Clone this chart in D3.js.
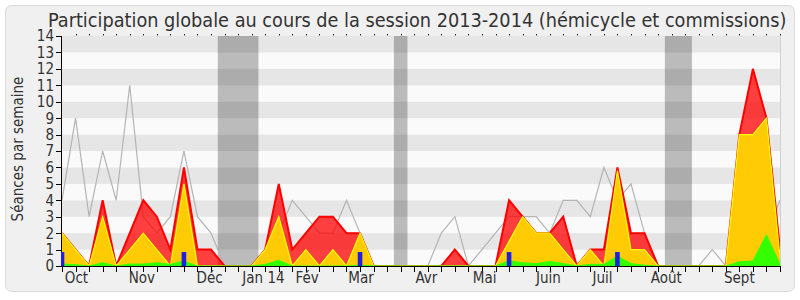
<!DOCTYPE html>
<html>
<head>
<meta charset="utf-8">
<script src="https://cdn.jsdelivr.net/npm/d3@7"></script>
<style>
  body { margin: 0; background: #fff; }
  svg text { font-family: "DejaVu Sans", sans-serif; font-stretch: condensed; fill: #333; }
</style>
</head>
<body>
<div id="grafico"></div>
<script>
// semaines de la session (index 0 = semaine du 30 sept 2013)
const semaines = d3.range(54);
const total     = [2,1,0,4,0,2,4,3,1,6,1,1,0,0,0,1,5,1,2,3,3,2,2,0,0,0,0,0,0,1,0,0,0,4,3,2,2,3,0,1,1,6,2,2,0,0,0,0,0,0,8,12,9,1];
const hemicycle = [2,1,0,3,0,1,2,1,0,5,0,0,0,0,0,1,3,0,1,0,1,0,2,0,0,0,0,0,0,0,0,0,0,1.5,3,2,2,1,0,1,0,5.8,1,1,0,0,0,0,0,0,8,8,9,0.5];
const commissions = [0.12,0.08,0,0.2,0,0.12,0.12,0.2,0.1,0.3,0,0,0,0,0,0.1,0.35,0,0,0,0,0,0.05,0,0,0,0,0,0,0,0,0,0,0.32,0.2,0.15,0.28,0.15,0,0.1,0.1,0.6,0.15,0.05,0,0,0,0,0,0,0.26,0.3,1.9,0.1];
const mediane   = [4,9,3,7,4,11,3,2,3,7,3,2,0,0,0,1,2,4,3,2,2,4,2,0,0,0,0,0,2,3,0,1,2,3,3,3,2,4,4,3,6,4,5,2,0,0,0,0,1,0,7,5,2,4];
const questions = [0,9,22,33,41];   // semaines avec question orale
const hauteurQuestion = 0.85;
const vacances = [[11.5,14.5],[24.5,25.5],[44.5,46.5]];
const mois = ["Oct","Nov","Déc","Jan 14","Fév","Mar","Avr","Mai","Juin","Juil","Août","Sept"];
const posMois = [1.07,5.9,10.9,14.87,18.1,22.07,26.9,31.2,35.9,39.9,44.6,50.0];
const yTicks = d3.range(0, 15);

const width = 800, height = 300;
const svg = d3.select("#grafico").append("svg")
    .attr("width", width)
    .attr("height", height);

svg.append("rect")
    .attr("x", 5.5).attr("y", 5.5)
    .attr("width", 789).attr("height", 286)
    .attr("rx", 6)
    .style("fill", "#f0f0f0")
    .style("stroke", "#dadada");

const x = d3.scaleLinear().domain([0, 53]).range([62, 780]);
const y = d3.scaleLinear().domain([0, 14]).range([266, 36]);

svg.append("clipPath").attr("id", "clip")
  .append("rect")
    .attr("x", 61).attr("y", 36)
    .attr("width", 719).attr("height", 230);

// bandes
svg.selectAll(".bande")
    .data(d3.range(0, 14))
    .join("rect")
    .attr("class", "bande")
    .attr("x", x(0))
    .attr("width", x(53) - x(0))
    .attr("y", d => y(d + 1))
    .attr("height", d => y(d) - y(d + 1))
    .style("fill", d => d % 2 ? "#e6e6e6" : "#fafafa");

svg.selectAll(".vacances")
    .data(vacances)
    .join("rect")
    .attr("class", "vacances")
    .attr("x", d => x(d[0]))
    .attr("width", d => x(d[1]) - x(d[0]))
    .attr("y", y(14))
    .attr("height", y(0) - y(14))
    .style("fill", "rgba(0,0,0,0.25)");

svg.append("line")
    .attr("x1", x(53) + 0.5).attr("x2", x(53) + 0.5)
    .attr("y1", y(14)).attr("y2", y(0))
    .style("stroke", "#cfcfcf");

const g = svg.append("g").attr("clip-path", "url(#clip)");

// mediane des deputes
g.append("path")
    .datum(semaines)
    .attr("d", d3.line().x(i => x(i)).y(i => y(mediane[i])))
    .style("fill", "none")
    .style("stroke", "#b4b4b4")
    .style("stroke-width", 1.2);

function zone(serie, fill, stroke, sw) {
  g.append("path")
      .datum(semaines)
      .attr("d", d3.area().x(i => x(i)).y0(y(0)).y1(i => y(serie[i])))
      .style("fill", fill);
  g.append("path")
      .datum(semaines)
      .attr("d", d3.line().x(i => x(i)).y(i => y(serie[i])))
      .style("fill", "none")
      .style("stroke", stroke)
      .style("stroke-width", sw);
}

zone(total, "rgba(255,0,0,0.75)", "#ff0000", 2);
zone(hemicycle, "rgba(255,214,0,0.93)", "#ffff00", 1.2);
zone(commissions, "#33ff00", "#33ff00", 1);

// axes
svg.append("line")
    .attr("x1", x(0)).attr("x2", x(53) + 1)
    .attr("y1", y(0) + 0.5).attr("y2", y(0) + 0.5)
    .style("stroke", "#000");
svg.append("line")
    .attr("x1", x(0) - 0.5).attr("x2", x(0) - 0.5)
    .attr("y1", y(14)).attr("y2", y(0) + 1)
    .style("stroke", "#000");

svg.selectAll(".question")
    .data(questions)
    .join("rect")
    .attr("class", "question")
    .attr("clip-path", "url(#clip)")
    .attr("x", d => x(d) - 2.3)
    .attr("width", 4.6)
    .attr("y", y(hauteurQuestion))
    .attr("height", y(0) - y(hauteurQuestion))
    .style("fill", "#1f1fe0");

svg.selectAll(".tickx")
    .data(semaines)
    .join("line")
    .attr("class", "tickx")
    .attr("x1", d => Math.round(x(d)) + 0.5)
    .attr("x2", d => Math.round(x(d)) + 0.5)
    .attr("y1", y(0) + 1).attr("y2", y(0) + 6)
    .style("stroke", "#000");

svg.selectAll(".tickhaut")
    .data(semaines.slice(1))
    .join("rect")
    .attr("class", "tickhaut")
    .attr("x", d => Math.round(x(d)))
    .attr("y", y(14) - 2)
    .attr("width", 1).attr("height", 1.5)
    .style("fill", "#222");

svg.selectAll(".ticky")
    .data(yTicks)
    .join("line")
    .attr("class", "ticky")
    .attr("x1", x(0) - 6).attr("x2", x(0))
    .attr("y1", d => Math.round(y(d)) + 0.5)
    .attr("y2", d => Math.round(y(d)) + 0.5)
    .style("stroke", "#000");

svg.selectAll(".labely")
    .data(yTicks)
    .join("text")
    .attr("class", "labely")
    .attr("x", x(0) - 8)
    .attr("y", d => y(d))
    .attr("dy", "0.36em")
    .attr("text-anchor", "end")
    .style("font-size", "15px")
    .text(d => d);

svg.selectAll(".mois")
    .data(mois)
    .join("text")
    .attr("class", "mois")
    .attr("x", (d, i) => x(posMois[i]))
    .attr("y", 283)
    .attr("text-anchor", "middle")
    .style("font-size", "15px")
    .text(d => d);

svg.append("text")
    .attr("transform", "translate(23,149) rotate(-90)")
    .attr("text-anchor", "middle")
    .style("font-size", "15px")
    .text("Séances par semaine");

svg.append("text")
    .attr("x", 48)
    .attr("y", 26.5)
    .style("font-size", "19.7px")
    .text("Participation globale au cours de la session 2013-2014 (hémicycle et commissions)");
</script>
</body>
</html>
